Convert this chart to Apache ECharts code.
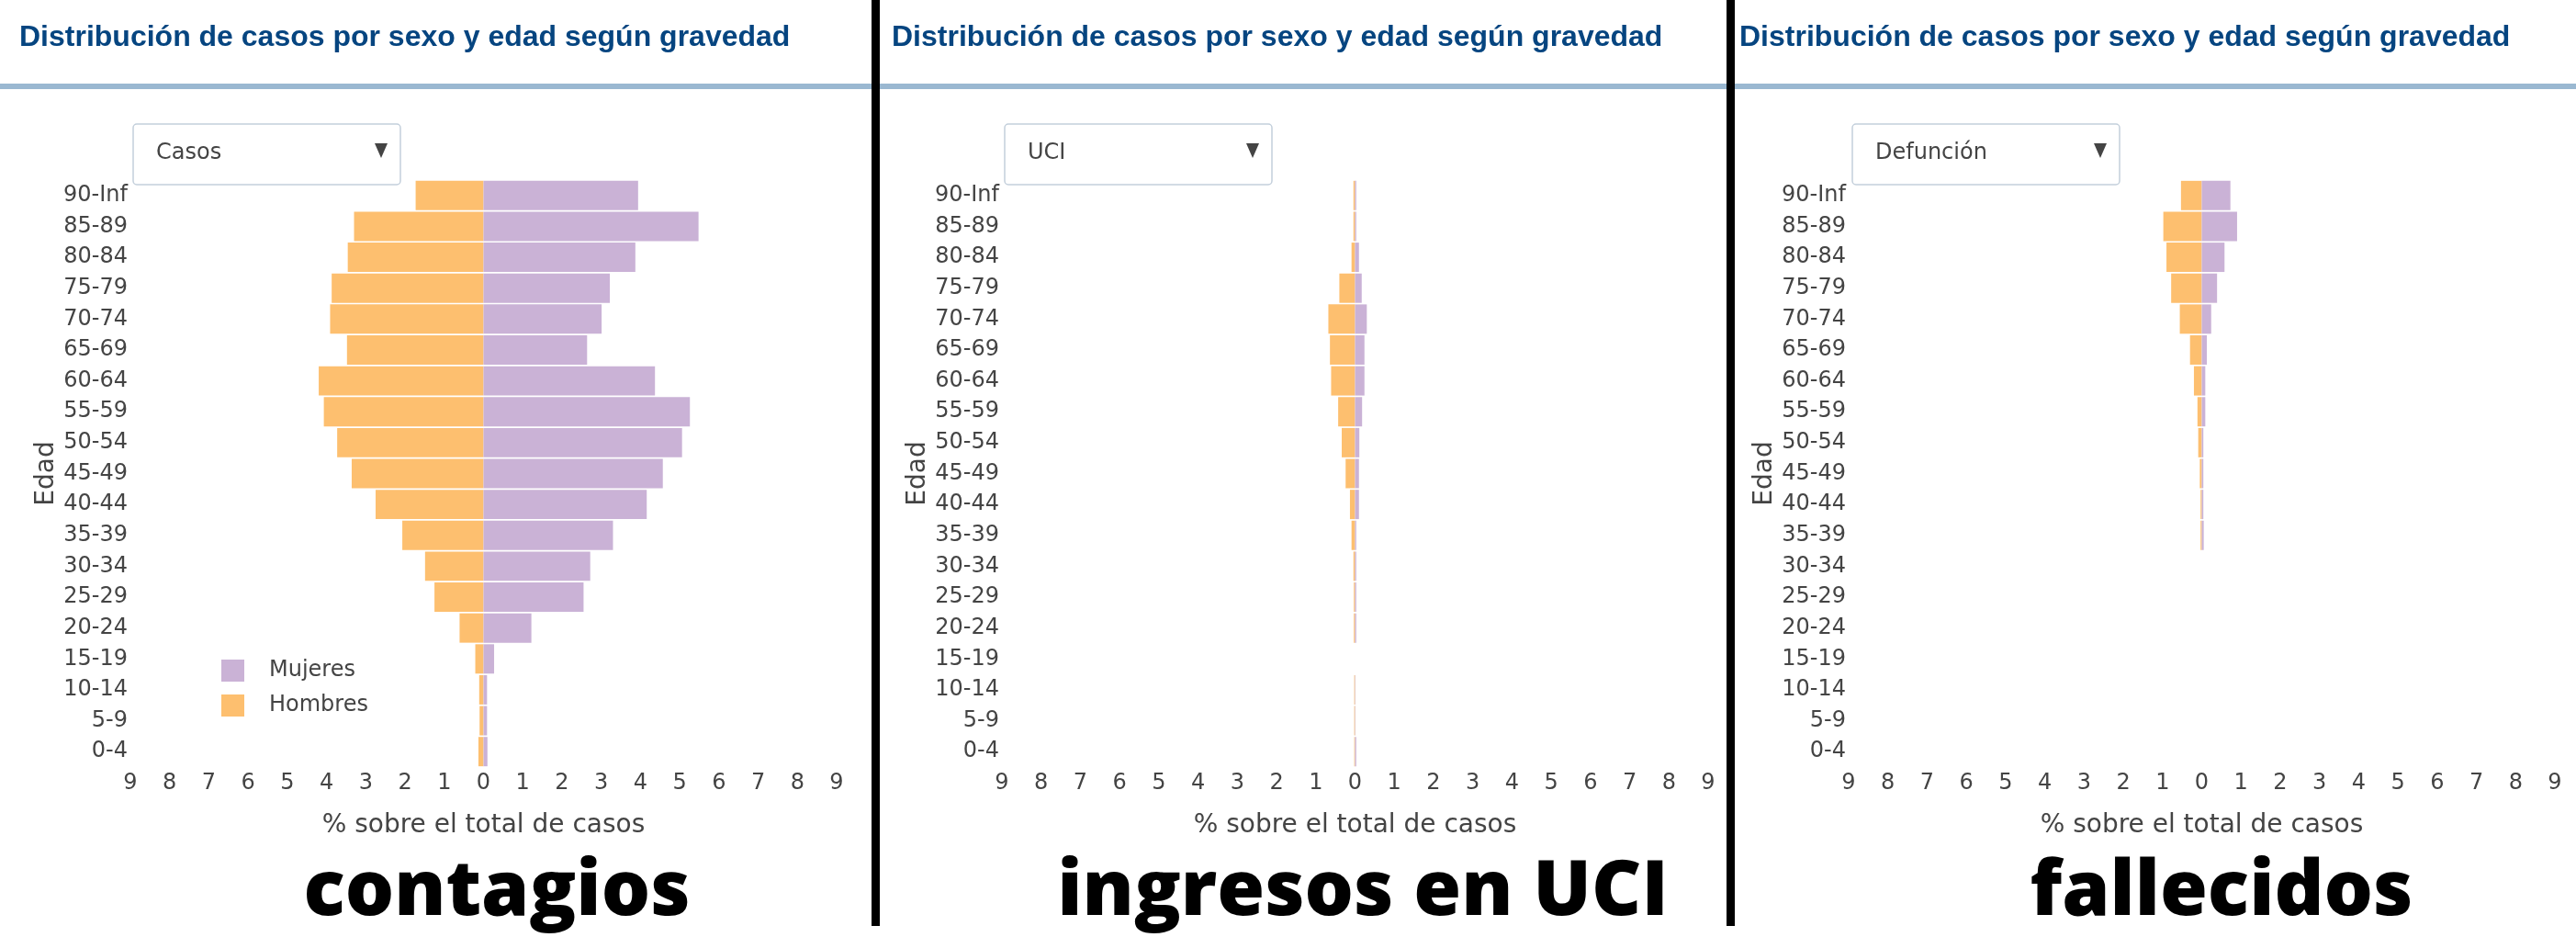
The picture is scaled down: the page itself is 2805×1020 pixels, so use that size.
<!DOCTYPE html>
<html>
<head>
<meta charset="utf-8">
<script src="https://cdn.jsdelivr.net/npm/echarts@6/dist/echarts.min.js"></script>
<style>
html,body{margin:0;padding:0;background:#fff;}
#c{width:2805px;height:1020px;}
</style>
</head>
<body>
<div id="c"></div>
<script>
// Age groups, bottom to top
var ages = ['0-4','5-9','10-14','15-19','20-24','25-29','30-34','35-39','40-44','45-49','50-54','55-59','60-64','65-69','70-74','75-79','80-84','85-89','90-Inf'];
var xTicks = [-9,-8,-7,-6,-5,-4,-3,-2,-1,0,1,2,3,4,5,6,7,8,9];

// Casos (% over total cases)
var casosHombres = [0.13,0.10,0.11,0.21,0.61,1.25,1.49,2.07,2.75,3.36,3.73,4.07,4.20,3.48,3.91,3.87,3.46,3.30,1.73];
var casosMujeres = [0.10,0.09,0.09,0.27,1.22,2.55,2.72,3.30,4.16,4.57,5.06,5.26,4.37,2.64,3.01,3.22,3.87,5.48,3.94];

// UCI
var uciHombres = [0.02,0.02,0.02,0,0.03,0.03,0.04,0.09,0.13,0.24,0.34,0.43,0.61,0.64,0.68,0.40,0.09,0.04,0.04];
var uciMujeres = [0.03,0.01,0.01,0,0.03,0.03,0.03,0.03,0.10,0.10,0.11,0.18,0.24,0.24,0.30,0.17,0.10,0.03,0.03];

// Defunción
var defHombres = [0,0,0,0,0,0,0,0.03,0.03,0.05,0.09,0.11,0.20,0.30,0.56,0.78,0.90,0.98,0.53];
var defMujeres = [0,0,0,0,0,0,0,0.05,0.04,0.04,0.04,0.09,0.09,0.13,0.24,0.39,0.58,0.90,0.73];

var panelTitles = ['Distribución de casos por sexo y edad según gravedad','Distribución de casos por sexo y edad según gravedad','Distribución de casos por sexo y edad según gravedad'];
var dropdownLabels = ['Casos','UCI','Defunción'];
var bigLabels = ['contagios','ingresos en UCI','fallecidos'];

var FONT = '"DejaVu Sans", Verdana, sans-serif';
var ORANGE = '#fdbf6f', PURPLE = '#cab2d6';
var gridLefts = [142, 1091, 2013];
var PLOT_W = 769, PLOT_TOP = 196, PLOT_H = 639;
var titleX = [21, 971, 1894];
var ddX = [145, 1094, 2017];
var bigX = [541, 1484, 2419];

var hombresSets = [casosHombres, uciHombres, defHombres];
var mujeresSets = [casosMujeres, uciMujeres, defMujeres];

var grids = [], xAxes = [], yAxes = [], series = [], graphics = [];

for (var p = 0; p < 3; p++) {
  grids.push({left: gridLefts[p], top: PLOT_TOP, width: PLOT_W, height: PLOT_H});
  xAxes.push({
    type: 'value', gridIndex: p, min: xTicks[0], max: xTicks[xTicks.length-1], interval: 1,
    axisLine: {show: false}, axisTick: {show: false}, splitLine: {show: false},
    axisLabel: {color: '#444', fontSize: 24, fontFamily: FONT, margin: 6,
      formatter: function (v) { return Math.abs(v); }},
    name: '% sobre el total de casos', nameLocation: 'middle', nameGap: 50,
    nameTextStyle: {color: '#444', fontSize: 28, fontFamily: FONT}
  });
  yAxes.push({
    type: 'category', gridIndex: p, data: ages,
    axisLine: {show: false}, axisTick: {show: false}, splitLine: {show: false},
    axisLabel: {color: '#444', fontSize: 24, fontFamily: FONT, margin: 3},
    name: 'Edad', nameLocation: 'middle', nameGap: 77,
    nameTextStyle: {color: '#444', fontSize: 28, fontFamily: FONT}
  });
  series.push({
    name: 'Hombres', type: 'bar', xAxisIndex: p, yAxisIndex: p,
    data: hombresSets[p].map(function (v) { return -v; }),
    barCategoryGap: '5%', barGap: '-100%',
    itemStyle: {color: ORANGE},
    silent: true
  });
  series.push({
    name: 'Mujeres', type: 'bar', xAxisIndex: p, yAxisIndex: p,
    data: mujeresSets[p],
    barCategoryGap: '5%', barGap: '-100%',
    itemStyle: {color: PURPLE},
    silent: true
  });

  // panel title
  graphics.push({type: 'text', left: titleX[p], top: 25, z: 10,
    style: {text: panelTitles[p], fill: '#064580', font: 'bold 32px "Liberation Sans", Arial, sans-serif'}});
  // dropdown box
  graphics.push({type: 'rect', shape: {x: ddX[p], y: 135, width: 291, height: 66, r: 4},
    style: {fill: '#fff', stroke: '#c3cfdb', lineWidth: 1.5}});
  graphics.push({type: 'text', x: ddX[p] + 25, y: 167,
    style: {text: dropdownLabels[p], fill: '#444', font: '24px ' + FONT, textVerticalAlign: 'middle'}});
  graphics.push({type: 'polygon', shape: {points: [[ddX[p]+263,156],[ddX[p]+277,156],[ddX[p]+270,172]]},
    style: {fill: '#444'}});
  // big label
  graphics.push({type: 'text', x: bigX[p], y: 972, z: 10,
    style: {text: bigLabels[p], fill: '#000', font: '800 84px "Open Sans", sans-serif',
      textAlign: 'center', textVerticalAlign: 'middle'}});
}

// header rule
graphics.push({type: 'rect', shape: {x: 0, y: 91, width: 2805, height: 6}, style: {fill: '#9ab8d1'}});
// black separators
graphics.push({type: 'rect', shape: {x: 949, y: 0, width: 9, height: 1008}, style: {fill: '#000'}, z: 20});
graphics.push({type: 'rect', shape: {x: 1880, y: 0, width: 9, height: 1008}, style: {fill: '#000'}, z: 20});

var chart = echarts.init(document.getElementById('c'), null, {renderer: 'canvas'});
chart.setOption({
  animation: false,
  backgroundColor: '#fff',
  grid: grids,
  xAxis: xAxes,
  yAxis: yAxes,
  legend: {
    data: ['Mujeres', 'Hombres'], orient: 'vertical', left: 236, top: 713,
    itemWidth: 25, itemHeight: 24, itemGap: 14, icon: 'rect',
    textStyle: {color: '#444', fontSize: 24, fontFamily: FONT, padding: [0, 0, 0, 22]}
  },
  series: series,
  graphic: graphics
});
</script>
</body>
</html>
